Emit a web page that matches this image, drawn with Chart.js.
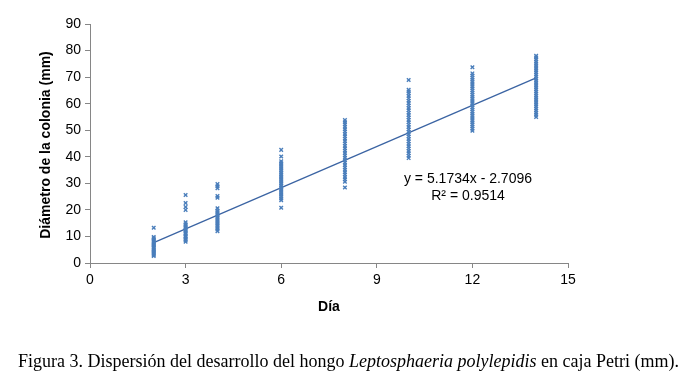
<!DOCTYPE html>
<html>
<head>
<meta charset="utf-8">
<script src="https://cdn.jsdelivr.net/npm/chart.js@4/dist/chart.umd.min.js"></script>
<style>
  html, body { margin: 0; padding: 0; background: #fff; }
  #wrap { width: 698px; height: 392px; position: relative; }
</style>
</head>
<body>
<div id="wrap"><canvas id="c" width="698" height="392"></canvas></div>
<script>
// Datos: diámetro de la colonia (mm) por día
const dias = [2, 3, 4, 6, 8, 10, 12, 14];
const dia2 = [2.6, 3.0, 3.4, 3.9, 4.3, 4.8, 5.2, 5.7, 6.1, 6.6, 7.0, 7.4, 7.9, 8.3, 8.8, 9.3, 9.8, 13.3];
const dia3 = [8.0, 8.6, 9.1, 9.7, 10.2, 10.8, 11.3, 11.9, 12.4, 13.0, 13.5, 14.1, 14.6, 15.3, 20.0, 21.1, 22.6, 25.6];
const dia4 = [12.0, 12.6, 13.2, 13.8, 14.4, 15.0, 15.6, 16.2, 16.8, 17.4, 18.0, 18.6, 19.2, 19.8, 20.6, 24.6, 25.2, 28.2, 28.9, 29.7];
const dia6 = [20.8, 23.6, 24.3, 25.0, 25.7, 26.4, 27.1, 27.8, 28.5, 29.2, 29.9, 30.6, 31.3, 32.0, 32.7, 33.4, 34.1, 34.8, 35.5, 36.2, 36.9, 37.6, 38.3, 40.1, 42.6];
const dia8 = [28.4, 30.6, 31.5, 32.4, 33.3, 34.2, 35.1, 36.0, 36.9, 37.8, 38.7, 39.6, 40.5, 41.4, 42.3, 43.2, 44.1, 45.0, 45.9, 46.8, 47.7, 48.6, 49.5, 50.4, 51.3, 52.2, 53.0, 53.8];
const dia10 = [39.5, 40.4, 41.3, 42.2, 43.1, 44.0, 44.9, 45.8, 46.7, 47.6, 48.5, 49.4, 50.3, 51.2, 52.1, 53.0, 53.9, 54.8, 55.7, 56.6, 57.5, 58.4, 59.3, 60.2, 61.1, 62.0, 62.9, 63.8, 64.6, 65.2, 68.9];
const dia12 = [49.8, 50.6, 51.4, 52.2, 53.0, 53.8, 54.6, 55.4, 56.2, 57.0, 57.8, 58.6, 59.4, 60.2, 61.0, 61.8, 62.6, 63.4, 64.2, 65.0, 65.8, 66.6, 67.4, 68.2, 69.0, 69.8, 70.6, 71.4, 73.7];
const dia14 = [55.0, 55.8, 56.6, 57.4, 58.2, 59.0, 59.8, 60.6, 61.4, 62.2, 63.0, 63.8, 64.6, 65.4, 66.2, 67.0, 67.8, 68.6, 69.4, 70.2, 71.0, 71.8, 72.6, 73.4, 74.2, 75.0, 75.8, 76.6, 77.4, 78.0];
const valores = [dia2, dia3, dia4, dia6, dia8, dia10, dia12, dia14];

// línea de tendencia (extremos de y = 5.1734x - 2.7096)
const tendenciaX = [2, 14];
const tendenciaY = [7.64, 69.72];

const xTicks = [0, 3, 6, 9, 12, 15];
const yTicks = [0, 10, 20, 30, 40, 50, 60, 70, 80, 90];

const ecuacion = 'y = 5.1734x - 2.7096';
const r2 = 'R² = 0.9514';

// armamos los puntos {x, y}
const puntos = [];
dias.forEach((d, i) => {
  valores[i].forEach(v => puntos.push({ x: d, y: v }));
});
const tendencia = tendenciaX.map((x, i) => ({ x: x, y: tendenciaY[i] }));

// textos extra: títulos de ejes, ecuación y pie de figura
const textos = {
  id: 'textos',
  afterDraw(chart) {
    const ctx = chart.ctx;
    ctx.save();
    ctx.fillStyle = '#000';
    // título eje Y
    ctx.font = 'bold 14px "Liberation Sans", Arial, sans-serif';
    ctx.textAlign = 'center';
    ctx.textBaseline = 'middle';
    ctx.save();
    ctx.translate(46, 145);
    ctx.rotate(-Math.PI / 2);
    ctx.fillText('Diámetro de la colonia (mm)', 0, 0);
    ctx.restore();
    // título eje X
    ctx.fillText('Día', 329, 307);
    // ecuación
    ctx.font = '14px "Liberation Sans", Arial, sans-serif';
    ctx.fillText(ecuacion, 468, 179);
    ctx.fillText(r2, 468, 196);
    // pie de figura
    const p1 = 'Figura 3. Dispersión del desarrollo del hongo ';
    const p2 = 'Leptosphaeria polylepidis';
    const p3 = ' en caja Petri (mm).';
    const normal = '18px "Liberation Serif", "Times New Roman", serif';
    const italica = 'italic 18px "Liberation Serif", "Times New Roman", serif';
    ctx.textAlign = 'left';
    ctx.textBaseline = 'alphabetic';
    let x = 18;
    ctx.font = normal; ctx.fillText(p1, x, 367); x += ctx.measureText(p1).width;
    ctx.font = italica; ctx.fillText(p2, x, 367); x += ctx.measureText(p2).width;
    ctx.font = normal; ctx.fillText(p3, x, 367);
    ctx.restore();
  }
};

new Chart(document.getElementById('c'), {
  type: 'scatter',
  data: {
    datasets: [{
      data: puntos,
      pointStyle: 'crossRot',
      pointRadius: 2.5,
      pointBorderWidth: 1.4,
      borderColor: '#4a7ebb',
      backgroundColor: '#4a7ebb',
      pointHoverRadius: 2.5
    }, {
      type: 'line',
      data: tendencia,
      borderColor: '#3b64a3',
      borderWidth: 1.3,
      pointRadius: 0,
      fill: false
    }]
  },
  options: {
    responsive: false,
    animation: false,
    events: [],
    layout: { padding: { top: 24, right: 130, bottom: 85, left: 0 } },
    plugins: { legend: { display: false }, tooltip: { enabled: false } },
    scales: {
      x: {
        type: 'linear', min: 0, max: 15,
        afterFit: s => { s.height = 44; },
        afterBuildTicks: s => { s.ticks = xTicks.map(v => ({ value: v })); },
        border: { color: '#868686', width: 1 },
        grid: { drawOnChartArea: false, color: '#868686', tickLength: 5 },
        ticks: { color: '#000', padding: 4, font: { family: '"Liberation Sans", Arial', size: 14 } }
      },
      y: {
        type: 'linear', min: 0, max: 90,
        afterFit: s => { s.width = 90; },
        afterBuildTicks: s => { s.ticks = yTicks.map(v => ({ value: v })); },
        border: { color: '#868686', width: 1 },
        grid: { drawOnChartArea: false, color: '#868686', tickLength: 5 },
        ticks: { color: '#000', padding: 4, font: { family: '"Liberation Sans", Arial', size: 14 } }
      }
    }
  },
  plugins: [textos]
});
</script>
</body>
</html>
